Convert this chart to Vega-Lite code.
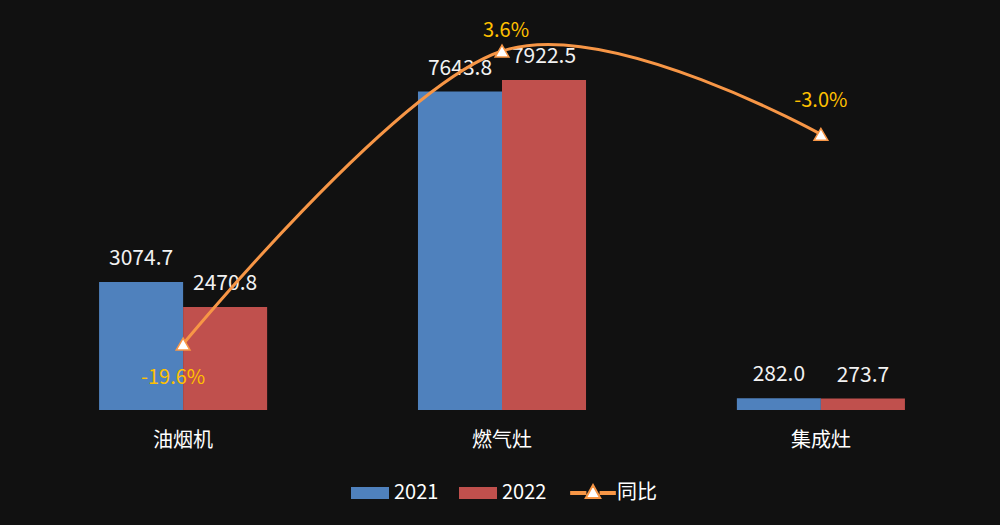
{
  "$schema": "https://vega.github.io/schema/vega-lite/v6.json",
  "width": 957,
  "height": 375,
  "autosize": {"type": "none"},
  "padding": {"left": 23.5, "top": 35, "right": 19.5, "bottom": 115},
  "background": "#111111",
  "config": {
    "view": {"stroke": null},
    "font": "Noto Sans CJK SC"
  },
  "datasets": {
    "bars": [
      {"cat": "油烟机", "year": "2021", "value": 3074.7},
      {"cat": "油烟机", "year": "2022", "value": 2470.8},
      {"cat": "燃气灶", "year": "2021", "value": 7643.8},
      {"cat": "燃气灶", "year": "2022", "value": 7922.5},
      {"cat": "集成灶", "year": "2021", "value": 282.0},
      {"cat": "集成灶", "year": "2022", "value": 273.7}
    ],
    "yoy": [
      {"cat": "油烟机", "yoy": -0.196},
      {"cat": "燃气灶", "yoy": 0.036},
      {"cat": "集成灶", "yoy": -0.030}
    ]
  },
  "resolve": {"scale": {"y": "independent"}},
  "layer": [
    {
      "data": {"name": "bars"},
      "layer": [
        {
          "mark": {"type": "bar"},
          "encoding": {
            "x": {
              "field": "cat", "type": "nominal", "sort": ["油烟机", "燃气灶", "集成灶"],
              "scale": {"paddingInner": 0.473, "paddingOuter": 0.237},
              "axis": {"title": null, "domain": false, "ticks": false, "labelAngle": 0, "labelFontSize": 20, "labelColor": "#FFFFFF", "labelPadding": 20, "labelFont": "Noto Sans CJK SC"}
            },
            "xOffset": {"field": "year", "type": "nominal", "scale": {"paddingInner": 0, "paddingOuter": 0}},
            "y": {"field": "value", "type": "quantitative", "scale": {"domain": [0, 9000], "nice": false}, "axis": null},
            "color": {
              "field": "year", "type": "nominal",
              "scale": {"domain": ["2021", "2022", "同比"], "range": ["#4F81BD", "#C0504D", "#FFFFFF"]},
              "legend": {
                "title": null, "orient": "none", "direction": "horizontal",
                "legendX": 336.5, "legendY": 448,
                "labelFontSize": 20, "labelColor": "#FFFFFF", "labelFont": "Noto Sans CJK SC",
                "symbolSize": 1444, "labelOffset": 14, "columnPadding": 20,
                "symbolType": "M-1,-0.316H1V0.316H-1Z",
                "encode": {
                  "symbols": {
                    "update": {
                      "shape": {"signal": "datum.value === '同比' ? 'M-1.15,-0.05H-0.4V0.05H-1.15ZM0.4,-0.05H1.15V0.05H0.4ZM0,-0.42L0.38,0.26L-0.38,0.26Z' : 'M-1,-0.316H1V0.316H-1Z'"},
                      "stroke": {"signal": "datum.value === '同比' ? '#F79646' : 'transparent'"},
                      "strokeWidth": {"signal": "datum.value === '同比' ? 2 : 0"},
                      "opacity": {"value": 1},
                      "fillOpacity": {"value": 1}
                    }
                  }
                }
              }
            }
          }
        },
        {
          "mark": {"type": "text", "dy": -17, "baseline": "alphabetic", "fontSize": 21, "color": "#F2F2F2", "font": "Noto Sans CJK SC"},
          "encoding": {
            "x": {"field": "cat", "type": "nominal", "sort": ["油烟机", "燃气灶", "集成灶"]},
            "xOffset": {"field": "year", "type": "nominal"},
            "y": {"field": "value", "type": "quantitative"},
            "text": {"field": "value", "type": "quantitative", "format": ".1f"}
          }
        }
      ]
    },
    {
      "data": {"name": "yoy"},
      "transform": [{"calculate": "replace(format(datum.yoy, '.1%'), '\u2212', '-')", "as": "label"}],
      "layer": [
        {
          "mark": {"type": "line", "interpolate": "cardinal", "strokeWidth": 3, "color": "#F79646"},
          "encoding": {
            "x": {"field": "cat", "type": "nominal", "sort": ["油烟机", "燃气灶", "集成灶"]},
            "y": {"field": "yoy", "type": "quantitative", "scale": {"domain": [-0.2482, 0.0487], "nice": false, "zero": false}, "axis": null}
          }
        },
        {
          "mark": {"type": "point", "shape": "triangle-up", "filled": true, "fill": "#FFFFFF", "stroke": "#F79646", "strokeWidth": 1.5, "size": 190, "opacity": 1},
          "encoding": {
            "x": {"field": "cat", "type": "nominal", "sort": ["油烟机", "燃气灶", "集成灶"]},
            "y": {"field": "yoy", "type": "quantitative"}
          }
        },
        {
          "transform": [{"filter": "datum.cat === '油烟机'"}],
          "mark": {"type": "text", "dy": 34, "dx": -10, "baseline": "middle", "fontSize": 20, "color": "#FFC000", "font": "Noto Sans CJK SC"},
          "encoding": {
            "x": {"field": "cat", "type": "nominal", "sort": ["油烟机", "燃气灶", "集成灶"]},
            "y": {"field": "yoy", "type": "quantitative"},
            "text": {"field": "label", "type": "nominal"}
          }
        },
        {
          "transform": [{"filter": "datum.cat === '燃气灶'"}],
          "mark": {"type": "text", "dy": -20, "dx": 4, "baseline": "middle", "fontSize": 20, "color": "#FFC000", "font": "Noto Sans CJK SC"},
          "encoding": {
            "x": {"field": "cat", "type": "nominal", "sort": ["油烟机", "燃气灶", "集成灶"]},
            "y": {"field": "yoy", "type": "quantitative"},
            "text": {"field": "label", "type": "nominal"}
          }
        },
        {
          "transform": [{"filter": "datum.cat === '集成灶'"}],
          "mark": {"type": "text", "dy": -33, "baseline": "middle", "fontSize": 20, "color": "#FFC000", "font": "Noto Sans CJK SC"},
          "encoding": {
            "x": {"field": "cat", "type": "nominal", "sort": ["油烟机", "燃气灶", "集成灶"]},
            "y": {"field": "yoy", "type": "quantitative"},
            "text": {"field": "label", "type": "nominal"}
          }
        }
      ]
    }
  ]
}
